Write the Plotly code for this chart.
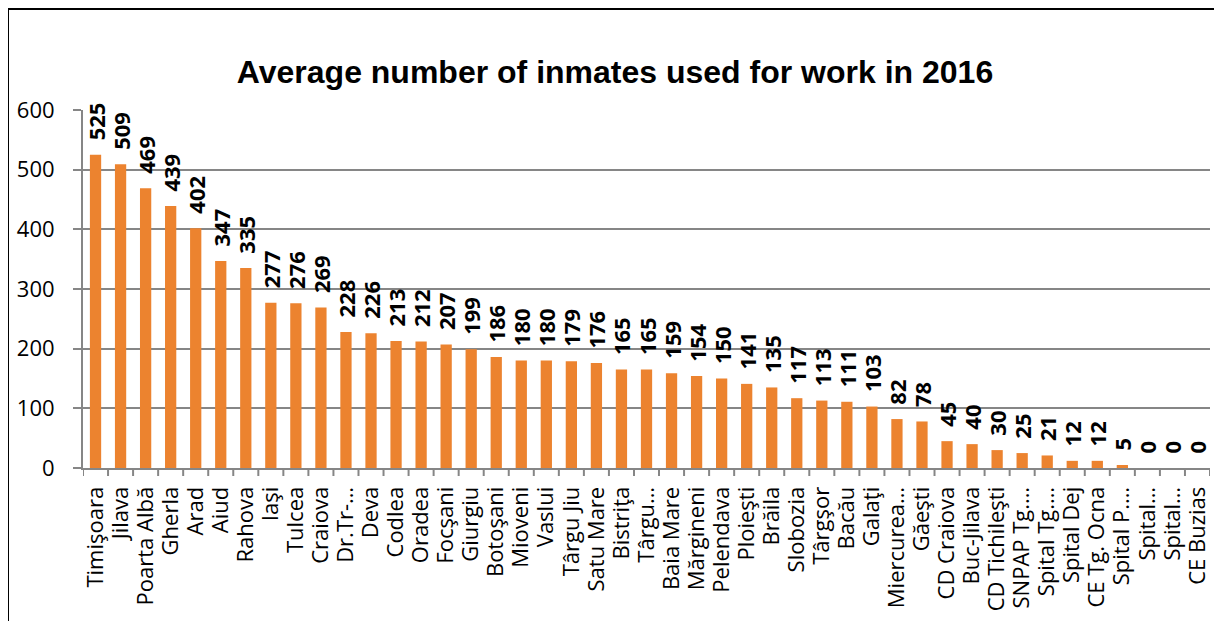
import plotly.graph_objects as go

categories = ["Timişoara", "Jilava", "Poarta Albă", "Gherla", "Arad", "Aiud", "Rahova", "Iaşi",
              "Tulcea", "Craiova", "Dr.Tr-…", "Deva", "Codlea", "Oradea", "Focşani", "Giurgiu",
              "Botoşani", "Mioveni", "Vaslui", "Târgu Jiu", "Satu Mare", "Bistriţa", "Târgu…",
              "Baia Mare", "Mărgineni", "Pelendava", "Ploieşti", "Brăila", "Slobozia", "Târgşor",
              "Bacău", "Galaţi", "Miercurea…", "Găeşti", "CD Craiova", "Buc-Jilava", "CD Tichileşti",
              "SNPAP Tg.…", "Spital Tg.…", "Spital Dej", "CE Tg. Ocna", "Spital P.…", "Spital…",
              "Spital…", "CE Buzias"]
values = [525, 509, 469, 439, 402, 347, 335, 277, 276, 269, 228, 226, 213, 212, 207, 199,
          186, 180, 180, 179, 176, 165, 165, 159, 154, 150, 141, 135, 117, 113, 111, 103,
          82, 78, 45, 40, 30, 25, 21, 12, 12, 5, 0, 0, 0]
y_ticks = [0, 100, 200, 300, 400, 500, 600]

idx = list(range(len(categories)))

# page has an 8px body margin; figure is offset accordingly
W, H = 1214, 613
L, T, PW, PH = 75, 102, 1127, 358

fig = go.Figure(go.Bar(
    x=idx, y=values,
    marker=dict(color="#EC832F", line=dict(width=0)),
    text=["\u00a0\u00a0" + str(v) for v in values],
    textposition="outside",
    textangle=-90,
    constraintext="none",
    cliponaxis=False,
    textfont=dict(family="Open Sans", size=22, color="black", weight="bold"),
    width=0.45,
))

fig.update_layout(
    width=W, height=H,
    margin=dict(l=L, r=W - L - PW, t=T, b=H - T - PH, pad=0),
    paper_bgcolor="white", plot_bgcolor="white",
    showlegend=False,
    title=dict(text="<b>Average number of inmates used for work in 2016</b>",
               font=dict(family="Liberation Sans", size=32, color="black"),
               x=0.5, xanchor="center", y=1 - 64/H, yanchor="middle"),
    xaxis=dict(tickmode="array", tickvals=idx, ticktext=categories, tickangle=-90,
               range=[-0.5, len(categories) - 0.5], automargin=False,
               tickfont=dict(family="Open Sans", size=22, color="black"),
               ticklabelstandoff=8,
               showgrid=False, showline=True, linecolor="#868686", linewidth=2,
               ticks="", zeroline=False),
    yaxis=dict(range=[0, 600], tickvals=y_ticks, automargin=False,
               tickfont=dict(family="Open Sans", size=22, color="black"),
               ticklabelstandoff=14,
               showgrid=True, gridcolor="#868686", gridwidth=2,
               showline=True, linecolor="#868686", linewidth=2,
               ticks="outside", ticklen=8, tickcolor="#868686", tickwidth=2,
               zeroline=False),
)

# x tick marks between categories
for i in range(len(categories) + 1):
    fig.add_shape(type="line", xref="x", yref="paper", x0=i - 0.5, x1=i - 0.5,
                  y0=0, y1=-8/PH, line=dict(color="#868686", width=2))

# outer chart border
fig.add_shape(type="rect", xref="paper", yref="paper",
              x0=-L/PW, x1=1.2, y0=-0.6, y1=(PH + T - 1)/PH,
              line=dict(color="black", width=2), fillcolor="rgba(0,0,0,0)", layer="below")

fig.write_html("out.html")
